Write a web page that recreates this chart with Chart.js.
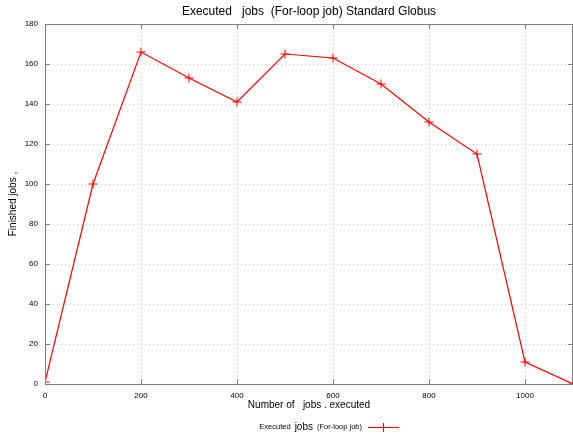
<!DOCTYPE html>
<html>
<head>
<meta charset="utf-8">
<script src="https://cdn.jsdelivr.net/npm/chart.js@4"></script>
<style>
  html, body { margin: 0; padding: 0; background: #fff; }
  #wrap { width: 573px; height: 437px; }
</style>
</head>
<body>
<div id="wrap"><canvas id="jobsChart" width="573" height="437"></canvas></div>
<script>
var jobsSubmitted = [0, 100, 200, 300, 400, 500, 600, 700, 800, 900, 1000, 1100];
var jobsFinished = [1, 100, 166, 153, 141, 165, 163, 150, 131, 115, 11, 0];
var xTickValues = [0, 200, 400, 600, 800, 1000];
var yTickValues = [0, 20, 40, 60, 80, 100, 120, 140, 160, 180];

var chartTitle = 'Executed   jobs  (For-loop job) Standard Globus';
var legendParts = ['Executed', 'jobs', '(For-loop job)'];
var seriesLabel = legendParts.join('  ');
var lineRed = '#ff0000';
var axisGray = '#7f7f7f';
var gridGray = '#cfcfcf';
var fontFamily = '"Liberation Sans", Arial, Helvetica, sans-serif';

var points = jobsSubmitted.map(function (x, i) {
  return { x: x, y: jobsFinished[i] };
});

// frame, inward ticks, title and gnuplot-style legend
var decorations = {
  id: 'decorations',
  afterDatasetsDraw: function (chart) {
    var c = chart.ctx;
    var a = chart.chartArea;
    var xs = chart.scales.x;
    var ys = chart.scales.y;
    c.save();
    c.strokeStyle = axisGray;
    c.lineWidth = 1;
    c.beginPath();
    c.moveTo(a.left + 0.5, a.bottom + 0.5);
    c.lineTo(a.left + 0.5, a.top + 0.5);
    c.lineTo(a.right - 0.5, a.top + 0.5);
    c.lineTo(a.right - 0.5, a.bottom + 0.5);
    c.closePath();
    xTickValues.forEach(function (v) {
      var px = Math.round(xs.getPixelForValue(v)) + 0.5;
      c.moveTo(px, a.top);
      c.lineTo(px, a.top + 5);
      c.moveTo(px, a.bottom);
      c.lineTo(px, a.bottom - 5);
    });
    yTickValues.forEach(function (v) {
      var py = Math.round(ys.getPixelForValue(v)) + 0.5;
      c.moveTo(a.left, py);
      c.lineTo(a.left + 5, py);
      c.moveTo(a.right, py);
      c.lineTo(a.right - 5, py);
    });
    c.stroke();

    c.fillStyle = '#000';
    c.textBaseline = 'middle';
    c.textAlign = 'center';
    c.font = '12px ' + fontFamily;
    c.fillText(chartTitle, (a.left + a.right) / 2, 12);

    // legend text: "jobs" is set a little larger, as in the original
    var sizes = [7.5, 10, 7.5];
    var widths = legendParts.map(function (t, i) {
      c.font = sizes[i] + 'px ' + fontFamily;
      return c.measureText(t).width;
    });
    var gap = 4;
    var total = widths[0] + widths[1] + widths[2] + gap * 2;
    var x0 = 362 - total;
    c.textAlign = 'left';
    legendParts.forEach(function (t, i) {
      c.font = sizes[i] + 'px ' + fontFamily;
      c.fillText(t, x0, 427);
      x0 += widths[i] + gap;
    });

    c.strokeStyle = lineRed;
    c.lineWidth = 1.2;
    c.beginPath();
    c.moveTo(368, 427.5);
    c.lineTo(399, 427.5);
    c.moveTo(383.5, 423);
    c.lineTo(383.5, 432);
    c.stroke();
    c.restore();
  }
};

new Chart(document.getElementById('jobsChart').getContext('2d'), {
  type: 'line',
  data: {
    datasets: [{
      label: seriesLabel,
      data: points,
      borderColor: lineRed,
      backgroundColor: lineRed,
      borderWidth: 1.2,
      tension: 0,
      fill: false,
      pointStyle: 'cross',
      pointRadius: 4.5,
      pointBorderWidth: 1,
      pointBorderColor: lineRed
    }]
  },
  options: {
    responsive: false,
    animation: false,
    layout: { autoPadding: false, padding: { top: 24, right: 0, bottom: 0, left: 0 } },
    plugins: {
      legend: { display: false },
      title: { display: false },
      tooltip: { enabled: false }
    },
    scales: {
      x: {
        type: 'linear',
        min: 0,
        max: 1100,
        afterBuildTicks: function (scale) {
          scale.ticks = xTickValues.map(function (v) { return { value: v }; });
        },
        afterFit: function (scale) {
          scale.height = 53;
          scale.paddingLeft = 0;
          scale.paddingRight = 0;
        },
        grid: {
          color: gridGray,
          drawTicks: false
        },
        border: { display: false, dash: [1, 3] },
        ticks: {
          color: '#000',
          padding: 7,
          maxRotation: 0,
          callback: function (v) { return String(v); },
          font: { size: 8, family: fontFamily }
        },
        title: {
          display: true,
          text: 'Number of   jobs . executed',
          color: '#000',
          font: { size: 10, family: fontFamily },
          padding: { top: 0, bottom: 26 }
        }
      },
      y: {
        min: 0,
        max: 180,
        afterBuildTicks: function (scale) {
          scale.ticks = yTickValues.map(function (v) { return { value: v }; });
        },
        afterFit: function (scale) {
          scale.width = 45;
          scale.paddingTop = 0;
          scale.paddingBottom = 0;
        },
        grid: {
          color: gridGray,
          drawTicks: false
        },
        border: { display: false, dash: [1, 3] },
        ticks: {
          color: '#000',
          padding: 7,
          font: { size: 8, family: fontFamily }
        },
        title: {
          display: true,
          text: 'Finished jobs ,',
          color: '#000',
          font: { size: 10, family: fontFamily },
          padding: { top: 7, bottom: 0 }
        }
      }
    }
  },
  plugins: [decorations]
});
</script>
</body>
</html>
